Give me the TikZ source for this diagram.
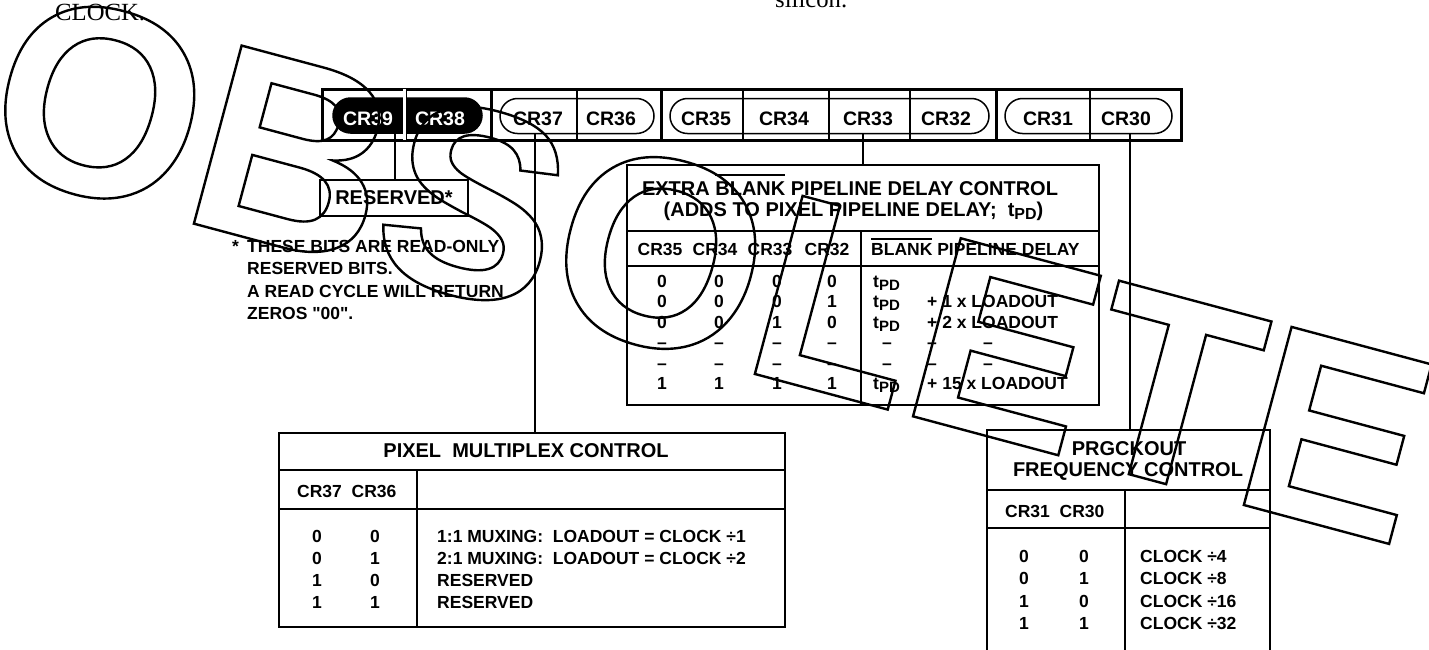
\documentclass[tikz,border=0pt]{standalone}
\usepackage{fontspec}
\setmainfont{Liberation Sans}[Ligatures=TeXOff]
\newfontfamily\serifx{Liberation Serif}
\newfontfamily\wmfont{Liberation Sans Bold}
\usetikzlibrary{shapes.misc}
\newcommand\ovl[2]{\setbox0\hbox{#2}\rlap{\vrule height #1pt depth -\numexpr#1-2\relax pt width\wd0}\box0\relax}
\newcommand\tpd[1]{t\raisebox{-3pt}{\fontsize{#1}{#1}\selectfont PD}}
\newcommand\outlined[1]{\special{pdf:literal direct 1 Tr 2.4 w}#1\special{pdf:literal direct 0 Tr}}
\begin{document}
\begin{tikzpicture}[x=1pt,y=-1pt,
  lbl/.style={font=\bfseries\fontsize{19.5}{20}\selectfont, inner sep=0, anchor=base},
  ttl/.style={font=\bfseries\fontsize{20}{21}\selectfont, inner sep=0, anchor=base},
  cell/.style={font=\bfseries\fontsize{17.5}{20}\selectfont, inner sep=0, anchor=base},
  cellw/.style={cell, anchor=base west},
  serif/.style={font=\serifx\fontsize{24.7}{26}\selectfont, inner sep=0, anchor=base west},
  frame/.style={draw, line width=2pt, inner sep=0},
  pill/.style={rounded rectangle, draw, line width=1.5pt, minimum height=35, inner sep=0, fill=white},
  conn/.style={line width=1.3pt},
  rule/.style={line width=2pt},
  wm/.style={font=\wmfont\fontsize{268}{268}\selectfont, inner sep=0, anchor=base west, rotate=-15}
]
\useasboundingbox (0,0) rectangle (1429,649);
% stray caption text at the top
\node[serif] (clk) at (55,20) {CLOCK.};
\node[serif] (sil) at (775,7) {silicon.};

% register bar
\node[draw, line width=3pt, minimum width=859, minimum height=51, inner sep=0] (bar) at (751.5,114.5) {};
\node[pill, fill=black, minimum width=149] (g39) at (407.5,115.5) {};
\node[pill, minimum width=154] (g37) at (577,116) {};
\node[pill, minimum width=319] (g35) at (829.5,116) {};
\node[pill, minimum width=167] (g31) at (1088.5,116) {};
\foreach \x in {577,743,829,910,1090} \draw[line width=1.5pt] (\x,89) -- (\x,140);
\foreach \x in {491,661,996} \draw[line width=3pt] (\x,89) -- (\x,140);
\draw[white, line width=4pt] (405,89) -- (405,140);
\draw[line width=1.5pt] (406.5,89) -- (406.5,140);
\node[lbl, text=white] (l39) at (368,125) {CR39};
\node[lbl, text=white] (l38) at (440,125) {CR38};
\node[lbl] (l37) at (538,125) {CR37};
\node[lbl] (l36) at (611,125) {CR36};
\node[lbl] (l35) at (706,125) {CR35};
\node[lbl] (l34) at (784,125) {CR34};
\node[lbl] (l33) at (868,125) {CR33};
\node[lbl] (l32) at (946,125) {CR32};
\node[lbl] (l31) at (1048,125) {CR31};
\node[lbl] (l30) at (1126,125) {CR30};

% reserved box and note
\node[frame, minimum width=148, minimum height=36, font=\bfseries\fontsize{20}{21}\selectfont] (res) at (394,198) {RESERVED*};
\node[cellw] (ast) at (232,252) {*};
\node[cellw] (n1) at (247,252) {THESE BITS ARE READ-ONLY};
\node[cellw] (n2) at (247,274) {RESERVED BITS.};
\node[cellw] (n3) at (247,297) {A READ CYCLE WILL RETURN};
\node[cellw] (n4) at (247,319) {ZEROS "00".};

% extra blank pipeline delay table
\node[frame, minimum width=472, minimum height=240] (ebx) at (863,285) {};
\draw[rule] (627,231) -- (1099,231);
\draw[rule] (627,266) -- (1099,266);
\draw[rule] (861,231) -- (861,405);
\node[ttl] (et1) at (850,195) {EXTRA \ovl{21}{BLANK} PIPELINE DELAY CONTROL};
\node[ttl] (et2) at (853.5,216) {(ADDS TO PIXEL PIPELINE DELAY;\ \ \tpd{16})};
\node[cell] (h35) at (660,255) {CR35};
\node[cell] (h34) at (715,255) {CR34};
\node[cell] (h33) at (770,255) {CR33};
\node[cell] (h32) at (827,255) {CR32};
\node[cellw] (hbl) at (871,255) {\ovl{17}{BLANK} PIPELINE DELAY};
\foreach \y/\a/\b/\c/\d in {287/0/0/0/0, 307.5/0/0/0/1, 328/0/0/1/0, 348.5/–/–/–/–, 369/–/–/–/–, 389.5/1/1/1/1}{
  \node[cell] at (662,\y) {\a};
  \node[cell] at (719,\y) {\b};
  \node[cell] at (777,\y) {\c};
  \node[cell] at (832,\y) {\d};
}
\node[cellw] (t1) at (873,287) {\tpd{15}};
\node[cellw] (t2) at (873,307.5) {\tpd{15}};
\node[cellw] (t3) at (873,328) {\tpd{15}};
\node[cellw] (t6) at (873,389.5) {\tpd{15}};
\node[cellw] (x2) at (927,307.5) {+ 1 x LOADOUT};
\node[cellw] (x3) at (927,328) {+ 2 x LOADOUT};
\node[cellw] (x6) at (927,389.5) {+ 15 x LOADOUT};
\foreach \y in {348.5,369}{
  \node[cell] at (887,\y) {–};
  \node[cell] at (932,\y) {–};
  \node[cell] at (988,\y) {–};
}

% pixel multiplex table
\node[frame, minimum width=506, minimum height=194] (pmc) at (532,530) {};
\draw[rule] (279,470) -- (785,470);
\draw[rule] (279,509) -- (785,509);
\draw[rule] (417,470) -- (417,627);
\node[ttl] (pt) at (526,457) {PIXEL\ \ MULTIPLEX CONTROL};
\node[cellw] (ph) at (297,497) {CR37\ \ CR36};
\foreach \y/\a/\b/\t in {542/0/0/{1:1 MUXING:\ \ LOADOUT = CLOCK ÷1}, 564/0/1/{2:1 MUXING:\ \ LOADOUT = CLOCK ÷2}, 586/1/0/RESERVED, 608/1/1/RESERVED}{
  \node[cell] at (317,\y) {\a};
  \node[cell] at (375,\y) {\b};
  \node[cellw] at (437,\y) {\t};
}

% prgckout table
\node[frame, minimum width=283, minimum height=240] (prg) at (1128.5,550) {};
\draw[rule] (987,490) -- (1270,490);
\draw[rule] (987,528) -- (1270,528);
\draw[rule] (1125,490) -- (1125,670);
\node[ttl] (rt1) at (1129,455) {PRGCKOUT};
\node[ttl] (rt2) at (1128,476) {FREQUENCY CONTROL};
\node[cellw] (rh) at (1005,517) {CR31\ \ CR30};
\foreach \y/\a/\b/\t in {562/0/0/{CLOCK ÷4}, 584.5/0/1/{CLOCK ÷8}, 607/1/0/{CLOCK ÷16}, 629.5/1/1/{CLOCK ÷32}}{
  \node[cell] at (1024,\y) {\a};
  \node[cell] at (1084,\y) {\b};
  \node[cellw] at (1140,\y) {\t};
}

% connectors
\coordinate (k39) at (395,0);
\coordinate (k37) at (535,0);
\coordinate (k35) at (863,0);
\coordinate (k31) at (1130,0);
\draw[conn] (k39 |- g39.south) -- (k39 |- res.north);
\draw[conn] (k37 |- g37.south) -- (k37 |- pmc.north);
\draw[conn] (k35 |- g35.south) -- (k35 |- ebx.north);
\draw[conn] (k31 |- g31.south) -- (k31 |- prg.north);

% watermark
\node[wm] (wmk) at (-25,165) {\outlined{OBSOLETE}};
\end{tikzpicture}
\end{document}
